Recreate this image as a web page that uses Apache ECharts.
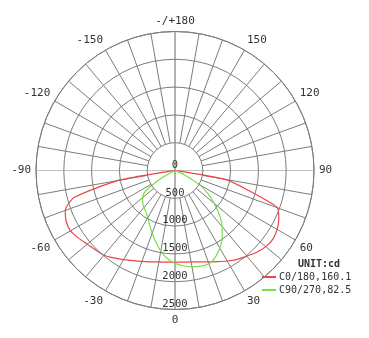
<!DOCTYPE html>
<html>
<head>
<meta charset="utf-8">
<script src="https://cdn.jsdelivr.net/npm/echarts@6/dist/echarts.min.js"></script>
<style>html,body{margin:0;padding:0;background:#fff;}#c{width:369px;height:338px;}</style>
</head>
<body>
<div id="c"></div>
<script>
// gamma angles (deg), negative = left half
var angles = [-90,-85,-80,-75,-70,-65,-60,-55,-50,-45,-40,-35,-30,-25,-20,-15,-10,-5,0,5,10,15,20,25,30,35,40,45,50,55,60,65,70,75,80,85,90];
// C0/180 intensities (cd)
var c0Values = [0,60,1050,1880,2100,2160,2170,2120,2060,2020,1990,1920,1850,1790,1740,1700,1670,1655,1650,1655,1670,1700,1750,1810,1880,1950,2010,2080,2130,2150,2120,2060,1960,1350,900,60,0];
// C90/270 intensities (cd)
var c90Values = [0,0,0,0,20,60,300,650,760,820,870,910,980,1080,1200,1330,1470,1590,1670,1720,1760,1780,1785,1720,1610,1480,1320,1130,920,720,500,200,60,10,0,0,0];
var seriesNames = ['C0/180,160.1','C90/270,82.5'];
var unitText = 'UNIT:cd';
var radiusTicks = [0,500,1000,1500,2000,2500];
var spokeAngles = [];
for (var s = 10; s < 360; s += 10) { if (s !== 90 && s !== 180 && s !== 270) spokeAngles.push(s); }

function toPolar(vals) {
  return angles.map(function (a, i) { return [vals[i], a < 0 ? a + 360 : a]; });
}

var FONT = 'DejaVu Sans Mono';
var gridColor = '#7c7c7c';
var series = [];
spokeAngles.forEach(function (a) {
  series.push({
    type: 'line', coordinateSystem: 'polar', silent: true, showSymbol: false,
    lineStyle: { color: gridColor, width: 1 }, z: 1,
    data: [[radiusTicks[1], a], [radiusTicks[radiusTicks.length - 1], a]]
  });
});
// horizontal line through the centre (lighter)
series.push({
  type: 'line', coordinateSystem: 'polar', silent: true, showSymbol: false,
  lineStyle: { color: '#c0c0c0', width: 1 }, z: 1,
  data: [[2500, 270], [0, 0], [2500, 90]]
});
// vertical line through the centre (darker)
series.push({
  type: 'line', coordinateSystem: 'polar', silent: true, showSymbol: false,
  lineStyle: { color: '#666666', width: 1 }, z: 1,
  data: [[2500, 180], [0, 0], [2500, 0]]
});
series.push({
  name: seriesNames[0], type: 'line', coordinateSystem: 'polar', showSymbol: false, smooth: 0.2,
  lineStyle: { color: '#ee4444', width: 1.2 }, itemStyle: { color: '#ee4444' }, z: 5,
  data: toPolar(c0Values)
});
series.push({
  name: seriesNames[1], type: 'line', coordinateSystem: 'polar', showSymbol: false, smooth: 0.2,
  lineStyle: { color: '#77e044', width: 1.2 }, itemStyle: { color: '#77e044' }, z: 5,
  data: toPolar(c90Values)
});

var chart = echarts.init(document.getElementById('c'), null, { renderer: 'canvas' });
chart.setOption({
  animation: false,
  backgroundColor: '#fff',
  title: {
    text: unitText, left: 298, top: 259, padding: 0,
    textStyle: { fontFamily: FONT, fontSize: 10, fontWeight: 'bold', color: '#333' }
  },
  legend: {
    data: seriesNames, orient: 'vertical', left: 262, top: 272,
    icon: 'rect', itemWidth: 14, itemHeight: 2, itemGap: 3, padding: 0,
    textStyle: { fontFamily: FONT, fontSize: 10, color: '#333', padding: [0, 0, 0, -2] }
  },
  polar: { center: [175, 170.5], radius: 139 },
  angleAxis: {
    type: 'value', min: 0, max: 360, interval: 30, startAngle: 270, clockwise: false,
    axisLine: { show: true, lineStyle: { color: gridColor, width: 1 } },
    axisTick: { show: false },
    splitLine: { show: false },
    axisLabel: {
      margin: 5, fontFamily: FONT, fontSize: 11, color: '#333',
      formatter: function (v) {
        if (v === 360) return '';
        if (v === 180) return '-/+180';
        return String(v > 180 ? v - 360 : v);
      }
    }
  },
  radiusAxis: {
    type: 'value', min: 0, max: 2500, interval: 500,
    axisLine: { show: false }, axisTick: { show: false },
    splitLine: { show: true, lineStyle: { color: gridColor, width: 1 } },
    axisLabel: {
      margin: 0, align: 'center', verticalAlign: 'bottom', fontFamily: FONT, fontSize: 10.5, color: '#333',
      formatter: function (v) { return String(v); }
    },
    z: 10
  },
  series: series
});
</script>
</body>
</html>
